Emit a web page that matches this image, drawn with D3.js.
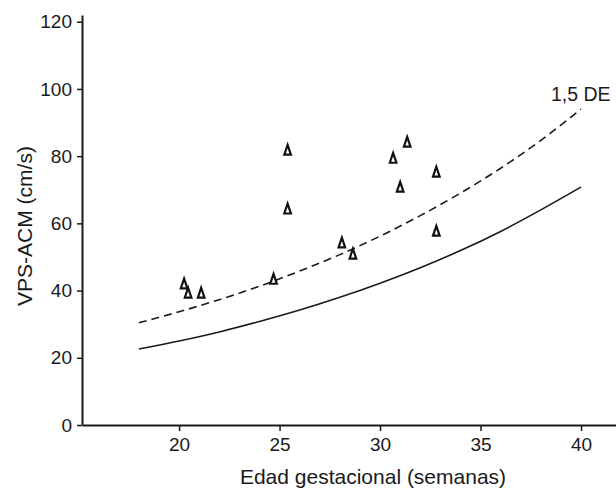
<!DOCTYPE html>
<html>
<head>
<meta charset="utf-8">
<script src="https://cdn.jsdelivr.net/npm/d3@7"></script>
<style>
  body { margin: 0; background: #fff; }
  svg text { font-family: "Liberation Sans", Arial, sans-serif; fill: #1a1a1a; }
</style>
</head>
<body>
<div id="chart"></div>
<script>
//size
const width = 616;
const height = 489;

//measured points (gestational age, PSV)
const ages = [20.25, 20.45, 21.1, 24.7, 25.4, 25.4, 28.1, 28.65, 30.65, 31.0, 31.35, 32.8, 32.8];
const psv = [42.0, 39.3, 39.3, 43.4, 81.8, 64.3, 54.2, 50.9, 79.4, 70.8, 84.2, 75.3, 57.7];

//reference curves
const curveWeeks = [18, 20, 22, 24, 26, 28, 30, 32, 34, 36, 38, 40];
const medianLine = [22.6, 25.0, 27.7, 30.8, 34.2, 38.0, 42.2, 46.8, 51.9, 57.6, 64.0, 70.8];
const sd15Line = [30.4, 33.7, 37.3, 41.3, 45.8, 50.7, 56.2, 62.3, 69.0, 76.4, 84.7, 94.0];

//ticks
const xTicks = [20, 25, 30, 35, 40];
const yTicks = [0, 20, 40, 60, 80, 100, 120];

//scales
const x = d3.scaleLinear().domain([15.17, 41.74]).range([82, 616]);
const y = d3.scaleLinear().domain([0, 122]).range([425, 15]);

const svg = d3.select("#chart")
  .append("svg")
  .attr("width", width)
  .attr("height", height);

//axes
const xAxis = svg.append("g")
  .attr("transform", `translate(0,${y(0)})`)
  .call(d3.axisBottom(x).tickValues(xTicks).tickSize(6).tickSizeOuter(0).tickPadding(7));

const yAxis = svg.append("g")
  .attr("transform", `translate(${x.range()[0]},0)`)
  .call(d3.axisLeft(y).tickValues(yTicks).tickSize(5).tickSizeOuter(0).tickPadding(5));

[xAxis, yAxis].forEach((g) => {
  g.select(".domain").attr("stroke", "#1a1a1a").attr("stroke-width", 2);
  g.selectAll(".tick line").attr("stroke", "#1a1a1a").attr("stroke-width", 1.5);
  g.selectAll(".tick text").attr("font-size", 19).attr("font-family", null).style("fill", "#1a1a1a");
});

//axis titles
svg.append("text")
  .attr("x", 373)
  .attr("y", 484)
  .attr("text-anchor", "middle")
  .attr("font-size", 21)
  .text("Edad gestacional (semanas)");

svg.append("text")
  .attr("transform", "translate(32,226) rotate(-90)")
  .attr("text-anchor", "middle")
  .attr("font-size", 21)
  .text("VPS-ACM (cm/s)");

//curves
const line = (vals) =>
  d3.line()
    .x((d, i) => x(curveWeeks[i]))
    .y((d) => y(d))
    .curve(d3.curveMonotoneX)(vals);

svg.append("path")
  .attr("d", line(medianLine))
  .attr("fill", "none")
  .attr("stroke", "#1a1a1a")
  .attr("stroke-width", 1.6);

svg.append("path")
  .attr("d", line(sd15Line))
  .attr("fill", "none")
  .attr("stroke", "#1a1a1a")
  .attr("stroke-width", 1.6)
  .attr("stroke-dasharray", "8,5");

//curve label
svg.append("text")
  .attr("x", x(38.5))
  .attr("y", y(96.5))
  .attr("font-size", 19.5)
  .text("1,5 DE");

//open triangle markers
const tri = "M0,-5.2L3.3,4.6L-3.3,4.6Z";

svg.append("g")
  .selectAll("path")
  .data(ages)
  .enter()
  .append("path")
  .attr("transform", (d, i) => `translate(${x(d)},${y(psv[i])})`)
  .attr("d", tri)
  .attr("fill", "none")
  .attr("stroke", "#111")
  .attr("stroke-width", 2.2)
  .attr("stroke-linejoin", "miter");
</script>
</body>
</html>
